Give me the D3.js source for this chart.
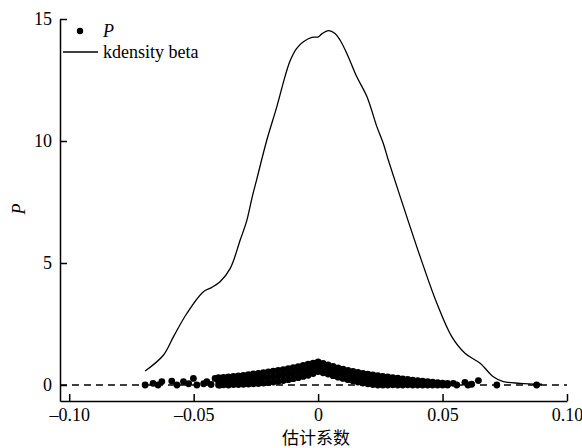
<!DOCTYPE html>
<html>
<head>
<meta charset="utf-8">
<script src="https://cdn.jsdelivr.net/npm/d3@7"></script>
<style>
  body { margin: 0; background: #fff; }
  svg text { font-family: "Liberation Serif", "Times New Roman", serif; fill: #000; }
</style>
</head>
<body>
<svg id="chart" width="582" height="448"></svg>
<script>
// kernel density of the estimated coefficients
const kdX = [-0.0695, -0.0621, -0.0581, -0.0527, -0.0461, -0.0427, -0.0394, -0.0353, -0.0313, -0.0286,
  -0.0266, -0.0246, -0.0206, -0.0166, -0.0133, -0.0112, -0.0086, -0.0059, -0.0025, 0.0001,
  0.0015, 0.0041, 0.0068, 0.0088, 0.0115, 0.0155, 0.0196, 0.0236, 0.0262, 0.0282,
  0.0343, 0.0410, 0.0477, 0.0537, 0.0590, 0.0651, 0.0704, 0.0744, 0.0811, 0.0900];
const kdY = [0.57, 1.23, 1.98, 2.94, 3.82, 4.00, 4.23, 4.78, 5.94, 6.76,
  7.65, 8.45, 10.04, 11.40, 12.64, 13.30, 13.80, 14.07, 14.25, 14.27,
  14.39, 14.52, 14.41, 14.14, 13.60, 12.64, 11.82, 10.59, 9.90, 9.22,
  7.31, 5.26, 3.35, 1.98, 1.30, 0.89, 0.34, 0.14, 0.07, 0.03];

// P values against coefficient
const pCoef = [
  -0.0695, -0.0663, -0.0643, -0.0628, -0.0588, -0.0567, -0.0541, -0.0520, -0.0501, -0.0487,
  -0.0460, -0.0447, -0.0430, -0.0414, -0.0394, -0.0367,
  -0.040, -0.040, -0.040, -0.038, -0.038, -0.038, -0.036, -0.036, -0.036, -0.034, -0.034, -0.034,
  -0.032, -0.032, -0.032, -0.030, -0.030, -0.030, -0.028, -0.028, -0.028, -0.026, -0.026, -0.026,
  -0.024, -0.024, -0.024, -0.022, -0.022, -0.022, -0.020, -0.020, -0.020, -0.018, -0.018, -0.018,
  -0.016, -0.016, -0.016, -0.014, -0.014, -0.014, -0.012, -0.012, -0.012, -0.010, -0.010, -0.010,
  -0.008, -0.008, -0.008, -0.006, -0.006, -0.006, -0.004, -0.004, -0.004, -0.002, -0.002, -0.002,
  0.000, 0.000, 0.000, 0.002, 0.002, 0.002, 0.004, 0.004, 0.004, 0.006, 0.006, 0.006,
  0.008, 0.008, 0.008, 0.010, 0.010, 0.010, 0.012, 0.012, 0.012, 0.014, 0.014, 0.014,
  0.016, 0.016, 0.016, 0.018, 0.018, 0.018, 0.020, 0.020, 0.020, 0.022, 0.022, 0.022,
  0.024, 0.024, 0.024, 0.026, 0.026, 0.026, 0.028, 0.028, 0.028, 0.030, 0.030, 0.030,
  0.032, 0.032, 0.032, 0.034, 0.034, 0.034, 0.036, 0.036, 0.036, 0.038, 0.038, 0.038,
  0.040, 0.040, 0.040, 0.042, 0.042, 0.042, 0.044, 0.044, 0.044, 0.046, 0.046, 0.046,
  0.048, 0.048, 0.048, 0.050, 0.050, 0.050, 0.052, 0.052, 0.052,
  0.0543, 0.0557, 0.0590, 0.0602, 0.0617, 0.0644, 0.0718, 0.0878];
const pVal = [
  0.00, 0.07, 0.00, 0.14, 0.16, 0.00, 0.14, 0.05, 0.27, 0.00,
  0.05, 0.14, 0.02, 0.27, 0.00, 0.12,
  0.30, 0.15, 0.00, 0.31, 0.16, 0.01, 0.33, 0.16, 0.00, 0.35, 0.18, 0.02,
  0.37, 0.19, 0.02, 0.39, 0.21, 0.03, 0.42, 0.23, 0.04, 0.45, 0.25, 0.05,
  0.48, 0.27, 0.06, 0.51, 0.30, 0.08, 0.54, 0.32, 0.10, 0.57, 0.35, 0.12,
  0.60, 0.38, 0.15, 0.63, 0.41, 0.18, 0.67, 0.45, 0.22, 0.71, 0.48, 0.26,
  0.75, 0.53, 0.30, 0.80, 0.58, 0.35, 0.85, 0.63, 0.40, 0.90, 0.69, 0.47,
  0.95, 0.75, 0.55, 0.88, 0.69, 0.50, 0.82, 0.63, 0.45, 0.76, 0.57, 0.38,
  0.70, 0.51, 0.32, 0.65, 0.46, 0.27, 0.60, 0.41, 0.22, 0.56, 0.36, 0.17,
  0.52, 0.32, 0.12, 0.48, 0.28, 0.08, 0.44, 0.25, 0.05, 0.41, 0.22, 0.02,
  0.38, 0.19, 0.00, 0.35, 0.17, 0.00, 0.33, 0.16, 0.00, 0.30, 0.15, 0.01,
  0.28, 0.13, 0.00, 0.25, 0.12, 0.00, 0.23, 0.11, 0.01, 0.20, 0.10, 0.00,
  0.18, 0.08, 0.00, 0.16, 0.07, 0.00, 0.14, 0.06, 0.00, 0.12, 0.05, 0.00,
  0.10, 0.04, 0.00, 0.08, 0.03, 0.00, 0.07, 0.02, 0.00,
  0.07, 0.00, 0.11, 0.00, 0.03, 0.18, 0.00, 0.00];

const xTicks = [-0.10, -0.05, 0, 0.05, 0.10];
const xTickLabels = ["–0.10", "–0.05", "0", "0.05", "0.10"];
const yTicks = [0, 5, 10, 15];

const svg = d3.select("#chart");

const x = d3.scaleLinear().domain([-0.1037, 0.10]).range([60, 567]);
const y = d3.scaleLinear().domain([-0.656, 15]).range([401, 19]);

// reference line at zero
svg.append("line")
    .attr("x1", x(-0.1037)).attr("x2", x(0.10))
    .attr("y1", y(0)).attr("y2", y(0))
    .attr("stroke", "#000")
    .attr("stroke-width", 1.5)
    .attr("stroke-dasharray", "7,5");

// P points
const pts = pCoef.map((c, i) => ({ c, p: pVal[i] }));
svg.selectAll(".dot")
    .data(pts)
    .enter().append("circle")
    .attr("class", "dot")
    .attr("cx", d => x(d.c))
    .attr("cy", d => y(d.p))
    .attr("r", 3.4)
    .attr("fill", "#000");

// kdensity curve
const kd = kdX.map((v, i) => ({ v, d: kdY[i] }));
svg.append("path")
    .datum(kd)
    .attr("fill", "none")
    .attr("stroke", "#000")
    .attr("stroke-width", 1.3)
    .attr("d", d3.line().x(d => x(d.v)).y(d => y(d.d)).curve(d3.curveCatmullRom));

// axes
const xAxis = svg.append("g")
    .attr("transform", "translate(0,401)")
    .call(d3.axisBottom(x).tickValues(xTicks).tickFormat((d, i) => xTickLabels[i])
        .tickSizeInner(-7).tickSizeOuter(0).tickPadding(7));

const yAxis = svg.append("g")
    .attr("transform", "translate(60,0)")
    .call(d3.axisLeft(y).tickValues(yTicks).tickFormat(d3.format("d"))
        .tickSizeInner(-7).tickSizeOuter(0).tickPadding(8));

[xAxis, yAxis].forEach(a => {
  a.select(".domain").attr("stroke-width", 1.5);
  a.selectAll(".tick line").attr("stroke-width", 1.5);
  a.selectAll(".tick text").style("font-size", "18px")
      .style("font-family", "'Liberation Serif', 'Times New Roman', serif");
});

// axis titles
svg.append("text")
    .attr("x", 316).attr("y", 444)
    .attr("text-anchor", "middle")
    .style("font-family", "'Noto Sans CJK SC', sans-serif")
    .style("font-size", "17px")
    .text("估计系数");

svg.append("text")
    .attr("transform", "translate(25,209) rotate(-90)")
    .attr("text-anchor", "middle")
    .style("font-style", "italic")
    .style("font-size", "18px")
    .text("P");

// legend
svg.append("circle").attr("cx", 80).attr("cy", 31).attr("r", 3.2).attr("fill", "#000");
svg.append("text").attr("x", 103).attr("y", 37)
    .style("font-style", "italic").style("font-size", "18px").text("P");
svg.append("line").attr("x1", 63).attr("x2", 98).attr("y1", 52).attr("y2", 52)
    .attr("stroke", "#000").attr("stroke-width", 1.3);
svg.append("text").attr("x", 103).attr("y", 58)
    .style("font-size", "18px").text("kdensity beta");
</script>
</body>
</html>
